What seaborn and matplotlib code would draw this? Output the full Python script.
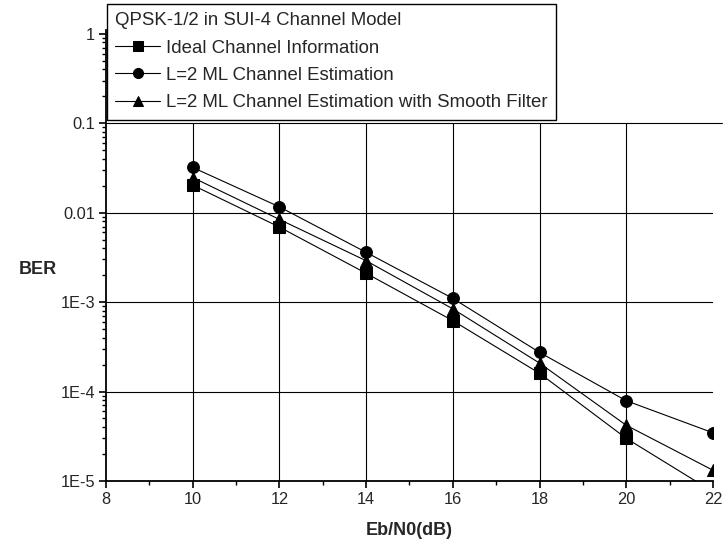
import numpy as np
import pandas as pd
import seaborn as sns
import matplotlib.pyplot as plt
from matplotlib.ticker import LogLocator, NullFormatter

sns.set_style('ticks')
plt.rcParams['font.family'] = ['Liberation Sans', 'DejaVu Sans']

# data
ebn0 = [10, 12, 14, 16, 18, 20, 22]
ber_ideal = [0.0203, 0.0069, 0.0021, 0.00062, 0.00016, 0.000030, 0.0000076]
ber_ml = [0.032, 0.0116, 0.0036, 0.0011, 0.000274, 0.000079, 0.0000346]
ber_smooth = [0.0247, 0.0084, 0.0029, 0.00084, 0.000208, 0.000042, 0.0000132]

labels = ['Ideal Channel Information',
          'L=2 ML Channel Estimation',
          'L=2 ML Channel Estimation with Smooth Filter']
markers = ['s', 'o', '^']

yticks = [1e-5, 1e-4, 1e-3, 1e-2, 1e-1, 1]
yticklabels = ['1E-5', '1E-4', '1E-3', '0.01', '0.1', '1']
xticks = [8, 10, 12, 14, 16, 18, 20, 22]

fig = plt.figure(figsize=(7.26, 5.52), dpi=100)
ax = fig.add_axes([0.146, 0.1286, 0.836, 0.817])

# grid (drawn only up to 0.1 like the original)
for xv in xticks[1:-1]:
    ax.vlines(xv, 1e-5, 0.1, color='black', lw=0.8, zorder=1)
for yv in [1e-4, 1e-3, 1e-2]:
    ax.axhline(yv, color='black', lw=0.8, zorder=1)
ax.axhline(0.1, xmax=1.015, color='black', lw=0.8, zorder=1, clip_on=False)

df = pd.DataFrame({'x': ebn0 * 3,
                   'y': ber_ideal + ber_ml + ber_smooth,
                   's': [labels[0]] * 7 + [labels[1]] * 7 + [labels[2]] * 7})

for lab, mk in zip(labels, markers):
    sub = df[df['s'] == lab]
    sns.lineplot(data=sub, x='x', y='y', ax=ax, color='black', lw=0.8,
                 marker=mk, markersize=8 if mk != 'o' else 8.5,
                 markeredgecolor='black', label=lab, zorder=3)

ax.set_yscale('log')
ax.set_xlim(8, 22)
ax.set_ylim(1e-5, 1.1)
ax.set_xticks(xticks)
ax.set_xticklabels([str(v) for v in xticks])
ax.set_xticks(np.arange(9, 22, 2), minor=True)
ax.set_yticks(yticks)
ax.set_yticklabels(yticklabels)
ax.yaxis.set_minor_locator(LogLocator(base=10, subs=np.arange(2, 10), numticks=20))
ax.yaxis.set_minor_formatter(NullFormatter())

ax.tick_params(axis='both', which='major', direction='out', length=5,
               width=1.2, labelsize=11.8, color='black', pad=3)
ax.tick_params(axis='both', which='minor', direction='out', length=3,
               width=1.0, color='black')

for side in ['top', 'right']:
    ax.spines[side].set_visible(False)
for side in ['left', 'bottom']:
    ax.spines[side].set_linewidth(1.3)
    ax.spines[side].set_color('black')

ax.set_xlabel('Eb/N0(dB)', fontsize=13, fontweight='bold', labelpad=11)
ax.set_ylabel('BER', fontsize=13, fontweight='bold', rotation=0)
ax.yaxis.set_label_coords(-0.112, 0.468)
ax.yaxis.label.set_verticalalignment('center')
ax.yaxis.label.set_horizontalalignment('center')

leg = ax.legend(title='QPSK-1/2 in SUI-4 Channel Model',
                loc='upper left', bbox_to_anchor=(107 / 726, 1 - 4 / 552),
                bbox_transform=fig.transFigure, borderaxespad=0,
                fontsize=13.4, title_fontsize=13.4, frameon=True, fancybox=False,
                framealpha=1, edgecolor='black', handlelength=2.4,
                handletextpad=0.3, labelspacing=0.55, borderpad=0.45,
                alignment='left', markerscale=0.85)
leg.get_frame().set_linewidth(1.0)
leg.set_zorder(5)

fig.savefig('out.png', dpi=100)
